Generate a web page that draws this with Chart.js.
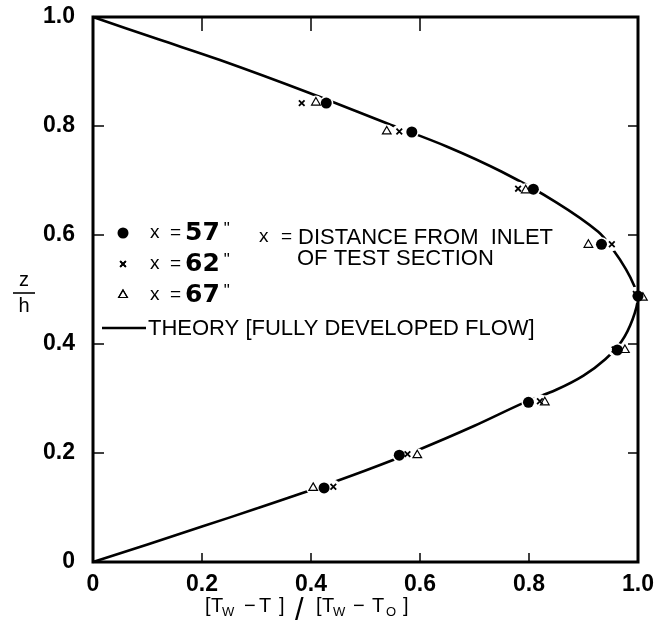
<!DOCTYPE html>
<html>
<head>
<meta charset="utf-8">
<script src="https://cdn.jsdelivr.net/npm/chart.js@4.4.1/dist/chart.umd.min.js"></script>
<style>
  html, body { margin: 0; padding: 0; background: #fff; }
  #wrap { width: 661px; height: 626px; }
</style>
</head>
<body>
<div id="wrap"><canvas id="chart" width="661" height="626"></canvas></div>
<script>
// Axis ticks (both axes run 0 .. 1)
const tickValues = [0, 0.2, 0.4, 0.6, 0.8, 1.0];
const tickLabels = ['0', '0.2', '0.4', '0.6', '0.8', '1.0'];

// Theory curve for fully developed flow, top wall (z/h = 1) to bottom wall (z/h = 0)
const theoryX = [0, 0.12, 0.233, 0.396, 0.539, 0.65, 0.75, 0.85, 0.927, 0.955, 0.978, 0.993, 1.0,
                 0.99, 0.97, 0.94, 0.9, 0.85, 0.79, 0.7, 0.6, 0.5, 0.4, 0.3, 0.2, 0.1, 0];
const theoryZ = [1.0, 0.959, 0.921, 0.861, 0.805, 0.762, 0.716, 0.660, 0.606, 0.572, 0.537, 0.507, 0.485,
                 0.445, 0.405, 0.372, 0.342, 0.316, 0.292, 0.250, 0.207, 0.168, 0.132, 0.098, 0.065, 0.032, 0];

// Measured profiles at three stations
const x57 = [0.428, 0.585, 0.808, 0.933, 1.0, 0.962, 0.799, 0.562, 0.424];
const z57 = [0.842, 0.789, 0.684, 0.583, 0.488, 0.389, 0.293, 0.196, 0.136];

const x62 = [0.383, 0.562, 0.780, 0.952, 0.996, 0.957, 0.820, 0.577, 0.441];
const z62 = [0.842, 0.790, 0.685, 0.583, 0.492, 0.390, 0.295, 0.198, 0.138];

const x67 = [0.409, 0.539, 0.794, 0.909, 1.009, 0.976, 0.829, 0.595, 0.404];
const z67 = [0.843, 0.790, 0.682, 0.582, 0.485, 0.389, 0.293, 0.196, 0.136];

const pts = (xs, zs) => xs.map((x, i) => ({ x: x, y: zs[i] }));

const FONT = '"Liberation Sans", Arial, Helvetica, sans-serif';
const BOLD_NUM = '"DejaVu Sans", "Liberation Sans", sans-serif';

const styles = {
  s57: { pointStyle: 'circle', radius: 5.5, backgroundColor: '#000', borderColor: '#000', borderWidth: 0 },
  s62: { pointStyle: 'crossRot', radius: 4, backgroundColor: '#000', borderColor: '#000', borderWidth: 1.8 },
  s67: { pointStyle: 'triangle', radius: 5, backgroundColor: 'rgba(0,0,0,0)', borderColor: '#000', borderWidth: 1.2 }
};

// Frame, inward tick marks, key and axis titles
const decorations = {
  id: 'decorations',
  afterDatasetsDraw(chart) {
    const { ctx, chartArea: a, scales } = chart;
    const xs = scales.x, ys = scales.y;
    ctx.save();
    ctx.strokeStyle = '#000';
    ctx.lineCap = 'butt';
    // inward ticks
    ctx.lineWidth = 1.5;
    const inner = tickValues.slice(1, -1);
    inner.forEach(v => {
      const y = ys.getPixelForValue(v);
      ctx.beginPath(); ctx.moveTo(a.left, y); ctx.lineTo(a.left + 11, y); ctx.stroke();
      ctx.beginPath(); ctx.moveTo(a.right, y); ctx.lineTo(a.right - 10, y); ctx.stroke();
      const x = xs.getPixelForValue(v);
      ctx.beginPath(); ctx.moveTo(x, a.bottom); ctx.lineTo(x, a.bottom - 9); ctx.stroke();
    });
    tickValues.slice(1, 4).forEach(v => {
      const x = xs.getPixelForValue(v);
      ctx.beginPath(); ctx.moveTo(x, a.top); ctx.lineTo(x, a.top + 14); ctx.stroke();
    });
    // frame
    ctx.lineWidth = 3;
    ctx.strokeRect(a.left, a.top, a.right - a.left, a.bottom - a.top);
    ctx.restore();
  },
  afterDraw(chart) {
    const { ctx } = chart;
    const draw = Chart.helpers.drawPoint;
    ctx.save();
    ctx.fillStyle = '#000';
    ctx.strokeStyle = '#000';
    ctx.textBaseline = 'middle';
    ctx.textAlign = 'left';

    // key rows
    const rows = [
      { st: styles.s57, y: 233, num: '57' },
      { st: styles.s62, y: 264, num: '62' },
      { st: styles.s67, y: 295, num: '67' }
    ];
    rows.forEach(r => {
      ctx.save();
      ctx.fillStyle = r.st.backgroundColor;
      ctx.strokeStyle = r.st.borderColor;
      ctx.lineWidth = r.st.borderWidth;
      draw(ctx, { pointStyle: r.st.pointStyle, radius: r.st.radius, borderWidth: r.st.borderWidth, rotation: 0 }, 123, r.y);
      if (r.st.borderWidth) ctx.stroke();
      ctx.restore();
      ctx.font = '19px ' + FONT;
      ctx.fillText('x', 150, r.y);
      ctx.fillText('=', 170, r.y);
      ctx.font = 'bold 25px ' + BOLD_NUM;
      ctx.fillText(r.num, 185, r.y);
      const w = ctx.measureText(r.num).width;
      ctx.font = '17px ' + FONT;
      ctx.fillText('"', 185 + w + 4, r.y - 4);
    });

    // station note
    ctx.font = '19px ' + FONT;
    ctx.fillText('x', 259, 237);
    ctx.fillText('=', 281, 237);
    ctx.font = '22px ' + FONT;
    ctx.fillText('DISTANCE FROM  INLET', 298, 238);
    ctx.fillText('OF TEST SECTION', 297, 259);

    // theory key
    ctx.lineWidth = 2.5;
    ctx.beginPath(); ctx.moveTo(102, 328); ctx.lineTo(146, 328); ctx.stroke();
    ctx.font = '22px ' + FONT;
    ctx.fillText('THEORY [FULLY DEVELOPED FLOW]', 148, 329);

    // y title: z over h
    ctx.textAlign = 'center';
    ctx.font = '20px ' + FONT;
    ctx.fillText('z', 24, 280);
    ctx.lineWidth = 1.6;
    ctx.beginPath(); ctx.moveTo(13, 293); ctx.lineTo(35, 293); ctx.stroke();
    ctx.fillText('h', 24, 306);

    // x title: [Tw - T] / [Tw - T0]
    ctx.textAlign = 'left';
    ctx.textBaseline = 'alphabetic';
    const base = 612;
    const runs = [
      ['[', 205, 20, 0], ['T', 211, 20, 0], ['W', 222, 13, 4], ['\u2212', 244, 20, 0], ['T', 259, 20, 0],
      [']', 279, 20, 0], ['/', 295, 31, 8], ['[', 316, 20, 0], ['T', 322, 20, 0], ['W', 333, 13, 4],
      ['\u2212', 353, 20, 0], ['T', 372, 20, 0], ['O', 386, 13, 4], [']', 403, 20, 0]
    ];
    runs.forEach(([t, x, size, dy]) => {
      ctx.font = size + 'px ' + FONT;
      ctx.fillText(t, x, base + dy);
    });
    ctx.restore();
  }
};

const markerSet = (label, xs, zs, st, order) => ({
  label: label,
  data: pts(xs, zs),
  showLine: false,
  pointStyle: st.pointStyle,
  pointRadius: st.radius,
  pointBackgroundColor: st.backgroundColor,
  pointBorderColor: st.borderColor,
  pointBorderWidth: st.borderWidth,
  clip: false,
  order: order
});

new Chart(document.getElementById('chart'), {
  type: 'scatter',
  data: {
    datasets: [
      markerSet('x = 57"', x57, z57, styles.s57, 0),
      markerSet('x = 67"', x67, z67, styles.s67, 1),
      markerSet('x = 62"', x62, z62, styles.s62, 2),
      {
        // white gap around each measured point so the curve breaks there
        label: 'gap',
        data: pts(x57.concat(x62, x67), z57.concat(z62, z67)),
        showLine: false,
        pointRadius: 7,
        pointBackgroundColor: '#fff',
        pointBorderWidth: 0,
        clip: false,
        order: 3
      },
      {
        label: 'THEORY [FULLY DEVELOPED FLOW]',
        data: pts(theoryX, theoryZ),
        showLine: true,
        borderColor: '#000',
        borderWidth: 2.6,
        pointRadius: 0,
        tension: 0.35,
        fill: false,
        clip: false,
        order: 4
      }
    ]
  },
  options: {
    responsive: false,
    devicePixelRatio: 1,
    animation: false,
    events: [],
    layout: { padding: { left: 0, top: 17, right: 23, bottom: 0 } },
    plugins: { legend: { display: false }, tooltip: { enabled: false } },
    scales: {
      x: {
        type: 'linear', min: 0, max: 1,
        afterBuildTicks: s => { s.ticks = tickValues.map(v => ({ value: v })); },
        afterFit: s => { s.height = 64; s.paddingLeft = 0; s.paddingRight = 0; },
        grid: { display: false, drawTicks: false },
        border: { display: false },
        ticks: {
          autoSkip: false, maxRotation: 0, padding: 9, color: '#000',
          font: { family: FONT, weight: 'bold', size: 23 },
          callback: (v, i) => tickLabels[i]
        }
      },
      y: {
        type: 'linear', min: 0, max: 1,
        afterBuildTicks: s => { s.ticks = tickValues.map(v => ({ value: v })); },
        afterFit: s => { s.width = 93; s.paddingTop = 0; s.paddingBottom = 0; },
        grid: { display: false, drawTicks: false },
        border: { display: false },
        ticks: {
          autoSkip: false, padding: 18, color: '#000',
          font: { family: FONT, weight: 'bold', size: 23 },
          callback: (v, i) => tickLabels[i]
        }
      }
    }
  },
  plugins: [decorations]
});
</script>
</body>
</html>
